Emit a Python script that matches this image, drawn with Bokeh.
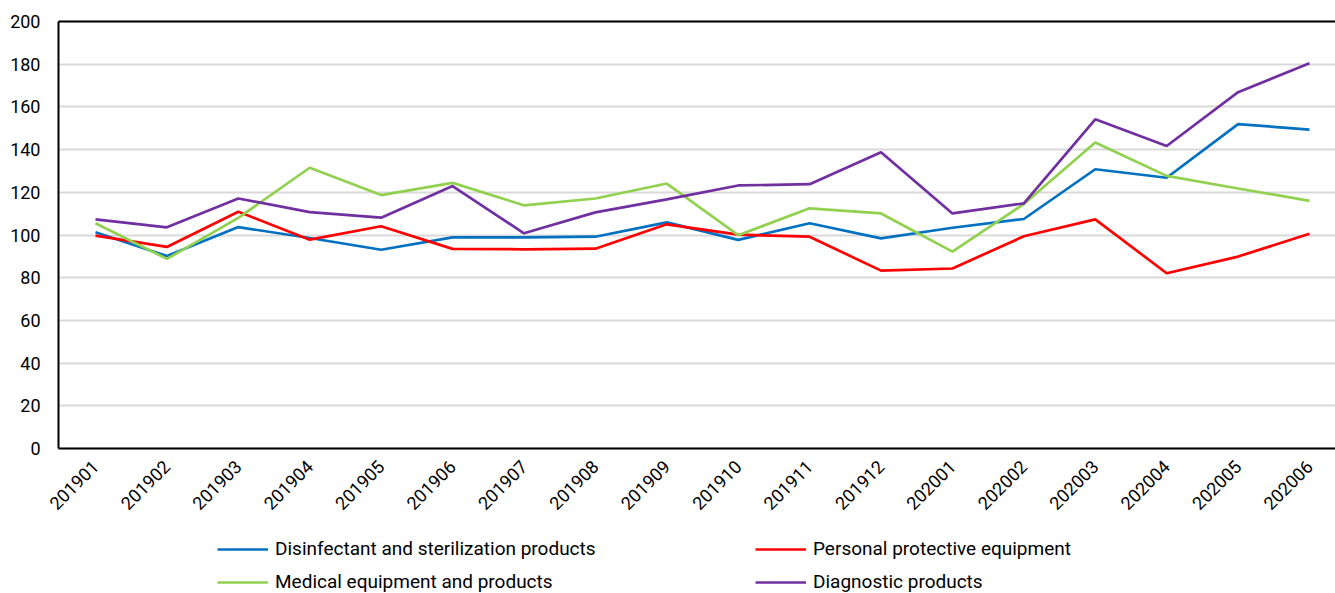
from bokeh.plotting import figure
from bokeh.models import Range1d, FixedTicker, Legend, LegendItem, LinearAxis, BoxAnnotation
from bokeh.embed import file_html
from bokeh.resources import INLINE
import math

periods = ["201901", "201902", "201903", "201904", "201905", "201906",
           "201907", "201908", "201909", "201910", "201911", "201912",
           "202001", "202002", "202003", "202004", "202005", "202006"]

disinfectant = [101.3, 90.2, 103.7, 98.6, 93.1, 98.9, 98.9, 99.2, 105.9, 97.7,
                105.5, 98.4, 103.4, 107.5, 130.8, 126.8, 151.9, 149.4]
ppe = [99.7, 94.4, 110.9, 97.8, 104.1, 93.5, 93.3, 93.6, 105.0, 100.2,
       99.2, 83.3, 84.3, 99.4, 107.3, 82.1, 89.9, 100.6]
medical = [105.5, 88.8, 108.0, 131.5, 118.7, 124.4, 113.9, 117.1, 124.1, 99.9,
           112.5, 110.1, 92.2, 114.5, 143.3, 127.7, 121.8, 116.0]
diagnostic = [107.3, 103.6, 117.1, 110.7, 108.1, 122.9, 100.8, 110.6, 116.7, 123.2,
              123.8, 138.8, 110.1, 114.8, 154.2, 141.7, 166.9, 180.4]

series_names = ["Disinfectant and sterilization products", "Personal protective equipment",
                "Medical equipment and products", "Diagnostic products"]
series_values = [disinfectant, ppe, medical, diagnostic]
series_colors = ["#0070C0", "#FF0000", "#92D050", "#7030A0"]
y_ticks = list(range(0, 201, 20))

FONT = "Roboto"
x = list(range(len(periods)))

# layout: the plotting area spans x in [X_LEFT, X_RIGHT] and y in [0, 200]; the frame
# itself covers the whole canvas so that axis labels and legends drawn inside are not clipped
X_LEFT, X_RIGHT = -0.518, 17.364
PX_PER_UNIT = 1277 / (X_RIGHT - X_LEFT)
X_START = X_LEFT - 58 / PX_PER_UNIT
Y_PX_PER_UNIT = 427 / 200
Y_END = 200 + 21 / Y_PX_PER_UNIT
Y_START = Y_END - 593 / Y_PX_PER_UNIT

p = figure(width=1335, height=593, output_backend="svg", toolbar_location=None,
           x_range=Range1d(X_START, X_RIGHT), y_range=Range1d(Y_START, Y_END),
           x_axis_location=None, y_axis_location=None,
           min_border_left=0, min_border_top=0, min_border_right=0, min_border_bottom=0)
p.outline_line_color = None
p.background_fill_color = "white"
p.border_fill_color = "white"

p.xgrid.grid_line_color = None
p.ygrid.ticker = FixedTicker(ticks=y_ticks)
p.ygrid.grid_line_color = "#D9D9D9"
p.ygrid.grid_line_width = 2

# hide the part of the gridlines lying left of the plotting area
p.add_layout(BoxAnnotation(right=X_LEFT, fill_color="white", fill_alpha=1,
                           line_color=None, level="underlay"))

renderers = []
for name, vals, col in zip(series_names, series_values, series_colors):
    r = p.line(x, vals, line_color=col, line_width=2.7)
    renderers.append(r)

xaxis = LinearAxis(ticker=FixedTicker(ticks=x), fixed_location=0, bounds=(X_LEFT, X_RIGHT),
                   major_label_overrides={i: s for i, s in zip(x, periods)},
                   major_label_orientation=math.pi / 4,
                   major_tick_line_color=None, minor_tick_line_color=None,
                   axis_line_color="black", axis_line_width=2,
                   major_label_text_font=FONT, major_label_text_font_size="18px",
                   major_label_text_color="black", major_label_standoff=9)
p.add_layout(xaxis, "below")

yaxis = LinearAxis(ticker=FixedTicker(ticks=y_ticks), bounds=(0, 200), fixed_location=X_LEFT,
                   major_tick_line_color=None, minor_tick_line_color=None,
                   axis_line_color="black", axis_line_width=2,
                   major_label_text_font=FONT, major_label_text_font_size="18px",
                   major_label_text_color="black", major_label_standoff=12)
p.add_layout(yaxis, "left")

top_axis = LinearAxis(ticker=FixedTicker(ticks=[]), fixed_location=200, bounds=(X_LEFT, X_RIGHT),
                      axis_line_color="black", axis_line_width=2,
                      major_tick_line_color=None, minor_tick_line_color=None,
                      major_label_text_font_size="0px", major_label_standoff=0)
p.add_layout(top_axis, "above")

items = [LegendItem(label=n, renderers=[r]) for n, r in zip(series_names, renderers)]
common = dict(orientation="vertical",
              glyph_width=51, glyph_height=22, label_height=22,
              label_standoff=7, spacing=10, padding=0, margin=0,
              border_line_color=None, background_fill_alpha=0,
              label_text_font=FONT, label_text_font_size="19px",
              label_text_color="black", label_text_baseline="middle")
legend1 = Legend(items=[items[0], items[2]], location=(217, 0), **common)
legend2 = Legend(items=[items[1], items[3]], location=(755, 0), **common)
p.add_layout(legend1)
p.add_layout(legend2)

open("out.html", "w").write(file_html(p, INLINE))
